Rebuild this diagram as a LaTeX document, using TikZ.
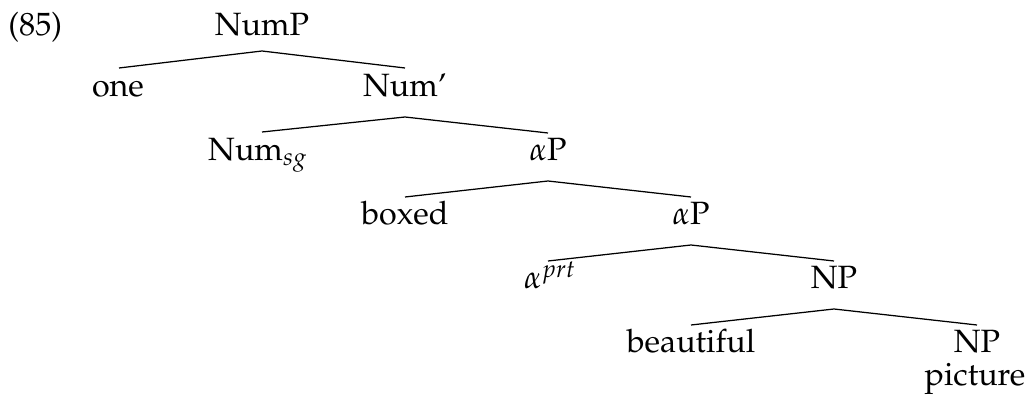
\documentclass[tikz,border=0pt]{standalone}
\usepackage[T1]{fontenc}
\usepackage{mathpazo}
\usetikzlibrary{calc}
\begin{document}
\begin{tikzpicture}[x=0.4pt,y=-0.4pt,
  lab/.style={anchor=base,inner sep=0pt,font=\fontsize{12.9}{15}\selectfont},
  br/.style={line width=0.5pt}]
\useasboundingbox (0,0) rectangle (1028,412);
\node[lab,anchor=base west] (ex) at (8,36) {(85)};
\node[lab] (nump) at (262,36) {NumP};
\node[lab] (one) at (118,97) {one};
\node[lab] (numbar) at (405,97) {Num'};
\node[lab] (numsg) at (258,161) {Num$_{sg}$};
\node[lab] (ap1) at (548,161) {$\alpha$P};
\node[lab] (boxed) at (405,225) {boxed};
\node[lab] (ap2) at (691,225) {$\alpha$P};
\node[lab] (aprt) at (550,289) {$\alpha^{prt}$};
\node[lab] (np1) at (834,289) {NP};
\node[lab] (beau) at (691,353) {beautiful};
\node[lab] (np2) at (977,353) {NP};
\node[lab] (pic) at (975,386) {picture};
\draw[br] ($(one.base)+(1,-29)$) -- ($(nump.base)+(0,15)$) -- ($(numbar.base)+(0,-29)$);
\draw[br] ($(numsg.base)+(4,-29)$) -- ($(numbar.base)+(0,20)$) -- ($(ap1.base)+(0,-28)$);
\draw[br] ($(boxed.base)+(0,-28)$) -- ($(ap1.base)+(0,20)$) -- ($(ap2.base)+(0,-28)$);
\draw[br] ($(aprt.base)+(-2,-28)$) -- ($(ap2.base)+(0,20)$) -- ($(np1.base)+(0,-28)$);
\draw[br] ($(beau.base)+(0,-28)$) -- ($(np1.base)+(0,20)$) -- ($(np2.base)+(0,-28)$);
\end{tikzpicture}
\end{document}
